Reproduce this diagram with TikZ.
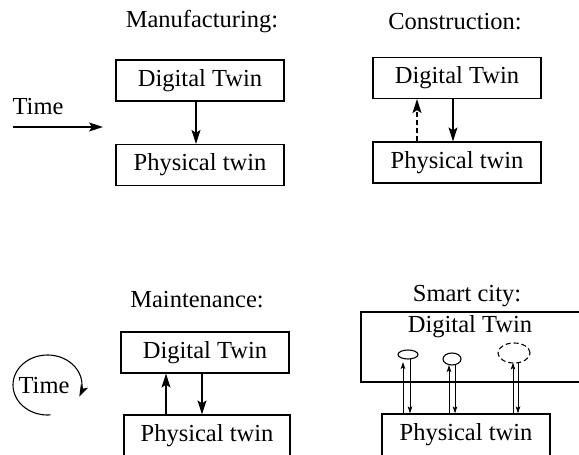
\documentclass[tikz,border=0pt]{standalone}
\usepackage{fontspec}
\setmainfont{Liberation Serif}
\usetikzlibrary{arrows.meta,shapes.geometric}
\begin{document}
\begin{tikzpicture}[x=1pt,y=-1pt,
  every node/.style={font=\fontsize{24.5}{28}\selectfont},
  twinbox/.style={draw,line width=1.2pt,minimum width=168pt,minimum height=41pt,inner sep=0pt},
  bigarrow/.style={line width=1.1pt,-{Stealth[length=14pt,width=9pt,inset=3pt]}},
  smallarrow/.style={line width=0.9pt,-{Stealth[length=7pt,width=4.5pt,inset=1.5pt]}},
  longdash/.style={dash pattern=on 5pt off 3pt},
  blob/.style={draw,ellipse,line width=1.1pt,inner sep=0pt}]
\useasboundingbox (0,0) rectangle (579,455);
\clip (0,0) rectangle (579,455);
% Manufacturing
\node (mtitle) at (202,22) {Manufacturing:};
\node[twinbox] (mdt) at (200,80.5) {Digital Twin};
\node[twinbox] (mpt) at (200,165) {Physical twin};
\draw[bigarrow] ([xshift=-4pt]mdt.south) -- ([xshift=-4pt]mpt.north);
\node (time1) at (38,107) {Time};
\coordinate (t1s) at (13,127);
\coordinate (t1e) at (103,127);
\draw[bigarrow] (t1s) -- (t1e);
% Construction
\node (ctitle) at (455,22) {Construction:};
\node[twinbox] (cdt) at (457,78) {Digital Twin};
\node[twinbox] (cpt) at (457,162.5) {Physical twin};
\draw[bigarrow,longdash] ([xshift=-40pt]cpt.north) -- ([xshift=-40pt]cdt.south);
\draw[bigarrow] ([xshift=-4pt]cdt.south) -- ([xshift=-4pt]cpt.north);
% Maintenance
\node (mttitle) at (197,300) {Maintenance:};
\node[twinbox] (mtdt) at (205,352.5) {Digital Twin};
\node[twinbox,minimum width=166pt,minimum height=42pt] (mtpt) at (207,436) {Physical twin};
\draw[bigarrow] ([xshift=-41pt]mtpt.north) -- ([xshift=-39pt]mtdt.south);
\draw[bigarrow] ([xshift=-3pt]mtdt.south) -- ([xshift=-5pt]mtpt.north);
\node (time2) at (44,386) {Time};
\draw[line width=1.1pt,-{Stealth[length=12pt,width=8pt,inset=3pt]}] (47.5,385) ++(85:34.5 and 30) arc[start angle=85,end angle=383,x radius=34.5,y radius=30];
% Smart city
\node (stitle) at (467,296) {Smart city:};
\node[draw,line width=1.2pt,minimum width=240pt,minimum height=70pt,inner sep=0pt] (sdt) at (481,347) {};
\node (sdtlabel) at (470,327) {Digital Twin};
\node[twinbox,minimum height=42pt] (spt) at (466,435) {Physical twin};
\node[blob,minimum width=20pt,minimum height=9pt] (e1) at (408,354.5) {};
\node[blob,minimum width=18pt,minimum height=12pt] (e2) at (452,359) {};
\node[blob,longdash,minimum width=32pt,minimum height=20pt] (e3) at (514,353) {};
\coordinate (u1) at (403,362);
\coordinate (d1) at (410,358.5);
\coordinate (u2) at (449,365);
\coordinate (d2) at (455,364.5);
\coordinate (u3) at (513,362.5);
\coordinate (d3) at (518,362);
\draw[smallarrow] (spt.north -| u1) -- (u1);
\draw[smallarrow] (d1) -- (spt.north -| d1);
\draw[smallarrow] (spt.north -| u2) -- (u2);
\draw[smallarrow] (d2) -- (spt.north -| d2);
\draw[smallarrow] (spt.north -| u3) -- (u3);
\draw[smallarrow] (d3) -- (spt.north -| d3);
\end{tikzpicture}
\end{document}
